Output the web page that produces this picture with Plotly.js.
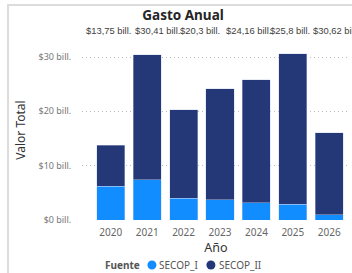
<!DOCTYPE html>
<html>
<head>
<meta charset="utf-8">
<script src="https://cdn.plot.ly/plotly-3.0.1.min.js"></script>
<style>
html,body{margin:0;padding:0;background:#fff;overflow:hidden;}
#frame{position:absolute;left:7px;top:4px;width:345px;height:269px;border-left:2px solid #dcdcdc;border-top:2px solid #dcdcdc;box-sizing:border-box;}
#chart{position:absolute;left:0;top:0;width:352px;height:273px;}
</style>
</head>
<body>
<div id="frame"></div>
<div id="chart"></div>
<script>
// Data (billions of pesos)
var years = ['2020', '2021', '2022', '2023', '2024', '2025', '2026'];
var secopI = [6.2, 7.4, 4.0, 3.75, 3.2, 2.9, 1.0];
var secopII = [7.55, 23.01, 16.3, 20.41, 22.6, 27.72, 15.05];
var totalLabels = ['$13,75 bill.', '$30,41 bill.', '$20,3 bill.', '$24,16 bill.', '$25,8 bill.', '$30,62 bill.', ''];
var yTickVals = [0, 10, 20, 30];
var yTickText = ['$0 bill.', '$10 bill.', '$20 bill.', '$30 bill.'];
var seriesNames = ['SECOP_I', 'SECOP_II'];
var legendTitle = 'Fuente';
var colors = ['#118DFF', '#243878'];

// label horizontal offsets (styling, px) mimicking the reference layout
var labelShift = [-2, 10, 16, 28, 34, 43, 0];

var font = 'Noto Sans, Open Sans, sans-serif';

var traces = [
  {type: 'bar', x: years, y: secopI, name: seriesNames[0], showlegend: false,
   marker: {color: colors[0], line: {color: 'rgba(200,210,235,0.7)', width: 0.6}}, hoverinfo: 'none'},
  {type: 'bar', x: years, y: secopII, name: seriesNames[1], showlegend: false,
   marker: {color: colors[1], line: {color: 'rgba(200,210,235,0.7)', width: 0.6}}, hoverinfo: 'none'}
];

var annotations = [];
years.forEach(function (yr, i) {
  if (totalLabels[i]) {
    annotations.push({x: i, xref: 'x', y: 1.05, yref: 'paper', text: totalLabels[i], showarrow: false,
          yanchor: 'middle', xanchor: 'center', xshift: labelShift[i],
          font: {family: 'Liberation Sans', size: 9.4, color: '#404040'}});
  }
});

// manual legend (circle markers close to text, as in the reference)
var legY = -0.25;
var legTextX = [0.28, 0.504];
var legDotX = [0.261, 0.481];
annotations.push({x: 0.078, xref: 'paper', y: legY, yref: 'paper', text: '<b>' + legendTitle + '</b>',
  showarrow: false, xanchor: 'left', yanchor: 'middle', font: {family: font, size: 10, color: '#555'}});
var shapes = [];
seriesNames.forEach(function (nm, i) {
  annotations.push({x: legTextX[i], xref: 'paper', y: legY, yref: 'paper', text: nm,
    showarrow: false, xanchor: 'left', yanchor: 'middle', font: {family: font, size: 10, color: '#555'}});
  shapes.push({type: 'circle', xref: 'paper', yref: 'paper', xsizemode: 'pixel', ysizemode: 'pixel',
    xanchor: legDotX[i], yanchor: legY, x0: -4.5, x1: 4.5, y0: -4.5, y1: 4.5,
    fillcolor: colors[i], line: {width: 0}});
});

var layout = {
  width: 352, height: 273,
  margin: {l: 82, r: 2, t: 40, b: 53},
  paper_bgcolor: 'rgba(0,0,0,0)', plot_bgcolor: 'rgba(0,0,0,0)',
  barmode: 'stack', bargap: 0.23,
  font: {family: font, color: '#666'},
  showlegend: false,
  title: {text: '<b>Gasto Anual</b>', x: 0.52, xref: 'container', xanchor: 'center',
          y: 0.945, yref: 'container', yanchor: 'middle',
          font: {family: font, size: 13.5, color: '#252525'}},
  xaxis: {type: 'category', range: [-0.79, 6.57], showgrid: false, zeroline: false,
          showline: false, ticks: 'outside', ticklen: 3, tickcolor: 'rgba(0,0,0,0)',
          tickfont: {size: 10, color: '#666'},
          title: {text: 'Año', standoff: 5, font: {size: 12.5, color: '#333'}}},
  yaxis: {range: [0, 33.13], tickvals: yTickVals, ticktext: yTickText,
          showgrid: true, gridcolor: '#bbbbbb', griddash: '1px,3px', gridwidth: 1,
          zeroline: false, showline: false, ticks: 'outside', ticklen: 8, tickcolor: 'rgba(0,0,0,0)',
          tickfont: {size: 9, color: '#777'},
          title: {text: 'Valor Total', standoff: 10, font: {size: 12, color: '#333'}}},
  annotations: annotations,
  shapes: shapes
};

Plotly.newPlot('chart', traces, layout, {staticPlot: true, displayModeBar: false});
</script>
</body>
</html>
